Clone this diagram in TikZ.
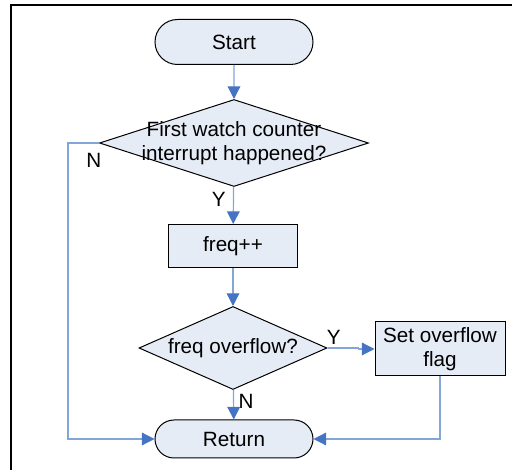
\documentclass[tikz,border=0pt]{standalone}
\usepackage{fontspec}
\setmainfont{Liberation Sans}
\usepackage{tikz}
\usetikzlibrary{shapes.geometric,shapes.misc,arrows.meta}
\definecolor{boxfill}{RGB}{230,236,246}
\definecolor{lineblue}{RGB}{130,166,218}
\definecolor{tipblue}{RGB}{70,116,196}

\begin{document}
\begin{tikzpicture}[x=0.75pt,y=-0.75pt,
  every node/.style={font=\fontsize{15.5}{18.5}\selectfont},
  terminal/.style={rounded rectangle, draw, fill=boxfill, line width=0.75pt, minimum width=158*0.75pt, inner sep=0pt},
  decision/.style={diamond, draw, fill=boxfill, line width=0.75pt, inner sep=0pt},
  process/.style={rectangle, draw, fill=boxfill, line width=0.75pt, align=center, inner sep=0pt},
  flow/.style={draw=lineblue, line width=0.9pt, -{Triangle[length=9.5pt,width=9.5pt,color=tipblue]}}]
\useasboundingbox (0,0) rectangle (512,470);

% Frame
\draw[line width=2.2pt] (11,470) -- (11,5) -- (512,5);

% Nodes
\node[terminal, minimum height=45*0.75pt] (start) at (234,42) {Start};
\node[decision, minimum width=269*0.75pt, minimum height=87*0.75pt,
  label={[align=center, font=\fontsize{15.5}{18.5}\selectfont]center:First watch counter\\interrupt happened?}] (watch) at (234,143) {};
\node[process, minimum width=129*0.75pt, minimum height=43*0.75pt] (incr) at (233,246) {freq++};
\node[decision, minimum width=188*0.75pt, minimum height=83*0.75pt,
  label={[font=\fontsize{15.5}{18.5}\selectfont]center:freq overflow?}] (ovf) at (233,348) {};
\node[process, minimum width=130*0.75pt, minimum height=54*0.75pt] (flag) at (440,349) {Set overflow\\flag};
\node[terminal, minimum height=38*0.75pt] (ret) at (234,439) {Return};

% Connectors
\draw[flow] (start) -- (watch);
\draw[flow] (watch) -- node[pos=0.35, left=2pt] (yes1) {Y} (incr);
\draw[flow] (watch.west) -- (68,143) |- node[pos=0.03, right=10pt] (no1) {N} (ret.west);
\draw[flow] (incr) -- (ovf);
\draw[flow] (ovf.east) -- node[pos=0.2, above=-1pt] (yes2) {Y} ++(31,0) |- (flag.west);
\draw[flow] (ovf) -- node[pos=0.4, right=0pt] (no2) {N} (ret);
\draw[flow] (flag.south) |- (ret.east);
\end{tikzpicture}
\end{document}
